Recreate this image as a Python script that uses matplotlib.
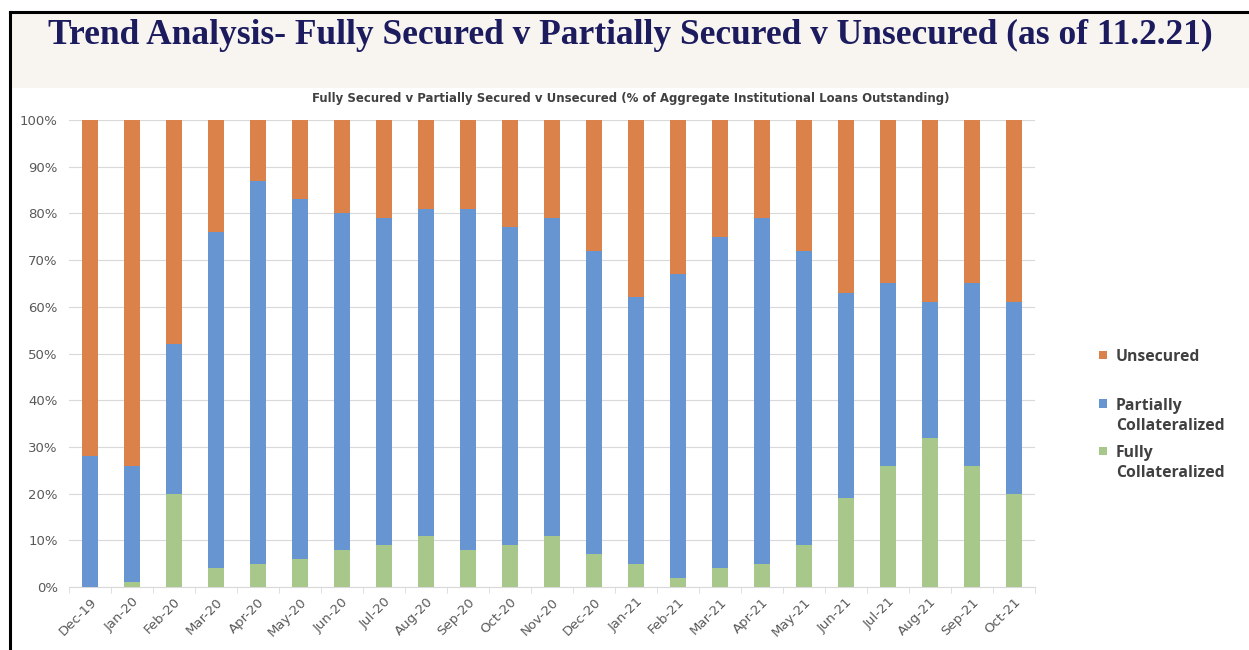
import matplotlib.pyplot as plt
import numpy as np
from matplotlib.patches import Rectangle
from matplotlib.lines import Line2D

months = ["Dec-19", "Jan-20", "Feb-20", "Mar-20", "Apr-20", "May-20", "Jun-20",
          "Jul-20", "Aug-20", "Sep-20", "Oct-20", "Nov-20", "Dec-20", "Jan-21",
          "Feb-21", "Mar-21", "Apr-21", "May-21", "Jun-21", "Jul-21", "Aug-21",
          "Sep-21", "Oct-21"]
# percent of aggregate institutional loans outstanding
fully = [0, 1, 20, 4, 5, 6, 8, 9, 11, 8, 9, 11, 7, 5, 2, 4, 5, 9, 19, 26, 32, 26, 20]
partially = [28, 25, 32, 72, 82, 77, 72, 70, 70, 73, 68, 68, 65, 57, 65, 71, 74, 63, 44, 39, 29, 39, 41]
unsecured = [100 - f - p for f, p in zip(fully, partially)]

c_orange = "#DA8249"
c_blue = "#6795D2"
c_green = "#A8C78B"
grey_txt = "#595959"

fig = plt.figure(figsize=(12.49, 6.5), dpi=100)
fig.patch.set_facecolor("white")

# header band and frame lines
fig.patches.append(Rectangle((0.008, 0.865), 0.992, 0.117, transform=fig.transFigure,
                             facecolor="#F8F5F1", edgecolor="none", zorder=0))
fig.add_artist(Line2D([0.008, 1.0], [0.982, 0.982], transform=fig.transFigure,
                      color="black", lw=2.2))
fig.add_artist(Line2D([0.008, 0.008], [0.0, 0.982], transform=fig.transFigure,
                      color="black", lw=2.2))

fig.text(0.505, 0.945, "Trend Analysis- Fully Secured v Partially Secured v Unsecured (as of 11.2.21)",
         ha="center", va="center", fontsize=25.5, fontweight="bold",
         family=["Liberation Serif", "DejaVu Serif"], color="#1B1B5E")
fig.text(0.505, 0.849, "Fully Secured v Partially Secured v Unsecured (% of Aggregate Institutional Loans Outstanding)",
         ha="center", va="center", fontsize=8.5, fontweight="bold",
         family=["Liberation Sans Narrow", "DejaVu Sans"], color="#404040")

ax = fig.add_axes([0.0552, 0.0969, 0.7735, 0.7185])
x = np.arange(len(months))
w = 0.4
ax.bar(x, fully, w, color=c_green, zorder=3)
ax.bar(x, partially, w, bottom=fully, color=c_blue, zorder=3)
ax.bar(x, unsecured, w, bottom=np.array(fully) + np.array(partially), color=c_orange, zorder=3)

ax.set_xlim(-0.5, len(months) - 0.5)
ax.set_ylim(0, 100)
ax.set_yticks(np.arange(0, 101, 10))
ax.set_yticklabels([f"{v}%" for v in range(0, 101, 10)], color=grey_txt, fontsize=9.5)
ax.yaxis.grid(True, color="#D9D9D9", lw=0.8, zorder=0)
ax.tick_params(axis="y", length=0, pad=8)

ax.set_xticks(x)
ax.set_xticklabels(months, rotation=45, ha="right", rotation_mode="anchor",
                   color=grey_txt, fontsize=9.5)
ax.set_xticks(np.arange(-0.5, len(months), 1), minor=True)
ax.tick_params(axis="x", which="major", length=0, pad=6)
ax.tick_params(axis="x", which="minor", length=4, color="#D9D9D9")
for s in ["top", "right", "left"]:
    ax.spines[s].set_visible(False)
ax.spines["bottom"].set_color("#D9D9D9")

# legend
entries = [("Unsecured", c_orange, 0.455), ("Partially\nCollateralized", c_blue, 0.380),
           ("Fully\nCollateralized", c_green, 0.307)]
for label, col, yy in entries:
    fig.patches.append(Rectangle((0.8800, yy - 0.007), 0.0065, 0.0125, transform=fig.transFigure,
                                 facecolor=col, edgecolor="none"))
    fig.text(0.8935, yy + 0.0080, label, ha="left", va="top", fontsize=11.3, fontweight="bold",
             color="#404040", linespacing=1.35, family=["Open Sans", "DejaVu Sans"])

fig.savefig("out.png", dpi=100)
